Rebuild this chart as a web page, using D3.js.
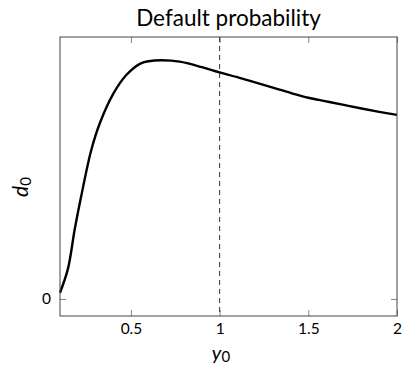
<!DOCTYPE html>
<html>
<head>
<meta charset="utf-8">
<script src="https://cdn.jsdelivr.net/npm/d3@7"></script>
<style>
  html, body { margin: 0; padding: 0; background: #fff; }
  svg { display: block; }
  text { font-family: Lato, "Open Sans", sans-serif; fill: #000; }
</style>
</head>
<body>
<svg id="chart" width="402" height="366"></svg>
<script>
// Sampled curve of the default probability d0 against y0
const y0Values = [0.1, 0.145, 0.183, 0.22, 0.275, 0.325, 0.4, 0.475, 0.55, 0.6, 0.675,
                  0.775, 0.9, 1.0, 1.1, 1.2, 1.3, 1.4, 1.5, 1.6, 1.7, 1.8, 1.9, 2.0];
const d0Values = [0.0026, 0.0127, 0.0292, 0.0432, 0.0620, 0.0737, 0.0859, 0.0939, 0.0985, 0.0996, 0.1000,
                  0.0994, 0.0971, 0.0949, 0.0929, 0.0907, 0.0885, 0.0863, 0.0843, 0.0828, 0.0813,
                  0.0798, 0.0784, 0.0771];
const xTicks = [0.5, 1, 1.5, 2];
const xTickLabels = ["0.5", "1", "1.5", "2"];
const yTicks = [0];
const yTickLabels = ["0"];
const markerX = 1;
const titleText = "Default probability";

const svg = d3.select("#chart");
const frame = { left: 60, right: 397, top: 37, bottom: 316 };

const x = d3.scaleLinear().domain([0.1, 2]).range([frame.left, frame.right]);

// pad the value range by 10% on each side
const [lo, hi] = d3.extent(d0Values);
const pad = (hi - lo) * 0.1;
const y = d3.scaleLinear().domain([lo - pad, hi + pad]).range([frame.bottom, frame.top]);

const tickLen = 6;
const g = svg.append("g");

// inward ticks on all four sides
const axisStyle = sel => {
  sel.select(".domain").remove();
  sel.selectAll(".tick line").attr("stroke", "#666").attr("stroke-width", 0.8);
};

g.append("g").attr("transform", `translate(0,${frame.bottom})`)
  .call(d3.axisBottom(x).tickValues(xTicks).tickSizeInner(-tickLen).tickSizeOuter(0)
        .tickPadding(7).tickFormat((d, i) => xTickLabels[i]))
  .call(axisStyle)
  .call(s => s.selectAll("text").attr("font-size", 15.5).attr("font-family", "Lato"));

g.append("g").attr("transform", `translate(0,${frame.top})`)
  .call(d3.axisTop(x).tickValues(xTicks).tickSizeInner(-tickLen).tickSizeOuter(0).tickFormat(""))
  .call(axisStyle);

g.append("g").attr("transform", `translate(${frame.left},0)`)
  .call(d3.axisLeft(y).tickValues(yTicks).tickSizeInner(-tickLen).tickSizeOuter(0)
        .tickPadding(9).tickFormat((d, i) => yTickLabels[i]))
  .call(axisStyle)
  .call(s => s.selectAll("text").attr("font-size", 15.5).attr("font-family", "Lato"));

g.append("g").attr("transform", `translate(${frame.right},0)`)
  .call(d3.axisRight(y).tickValues(yTicks).tickSizeInner(-tickLen).tickSizeOuter(0).tickFormat(""))
  .call(axisStyle);

// dashed reference line
g.append("line")
  .attr("x1", x(markerX)).attr("x2", x(markerX))
  .attr("y1", frame.top).attr("y2", frame.bottom)
  .attr("stroke", "#333").attr("stroke-width", 1).attr("stroke-dasharray", "5,4");

// the curve
const pts = y0Values.map((v, i) => [v, d0Values[i]]);
g.append("path")
  .datum(pts)
  .attr("fill", "none")
  .attr("stroke", "#000")
  .attr("stroke-width", 2.4)
  .attr("stroke-linejoin", "round")
  .attr("d", d3.line().x(d => x(d[0])).y(d => y(d[1])).curve(d3.curveCatmullRom.alpha(0.5)));

// frame
g.append("rect")
  .attr("x", frame.left).attr("y", frame.top)
  .attr("width", frame.right - frame.left).attr("height", frame.bottom - frame.top)
  .attr("fill", "none").attr("stroke", "#444").attr("stroke-width", 1);

// title
svg.append("text")
  .attr("x", (frame.left + frame.right) / 2).attr("y", 26)
  .attr("text-anchor", "middle").attr("font-size", 22.5)
  .text(titleText);

// x axis label: y with subscript 0
const xl = svg.append("text")
  .attr("x", 221).attr("y", 360)
  .attr("text-anchor", "middle").attr("font-size", 20);
xl.append("tspan").attr("font-style", "italic").text("y");
xl.append("tspan").attr("font-size", 15).attr("dy", 2).text("0");

// y axis label: d with subscript 0, rotated
const yl = svg.append("text")
  .attr("transform", "translate(28,187) rotate(-90)")
  .attr("text-anchor", "middle").attr("font-size", 21);
yl.append("tspan").attr("font-style", "italic").text("d");
yl.append("tspan").attr("font-size", 15).attr("dy", 3).text("0");
</script>
</body>
</html>
